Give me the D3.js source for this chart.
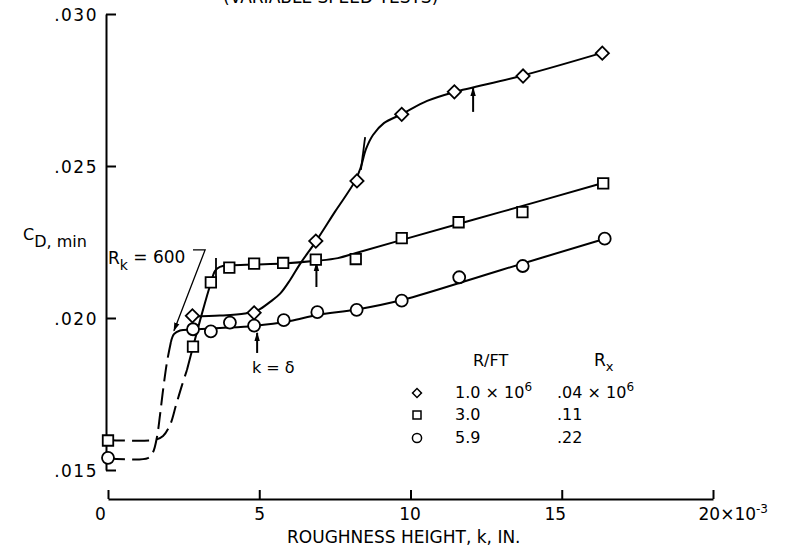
<!DOCTYPE html>
<html>
<head>
<meta charset="utf-8">
<script src="https://cdn.jsdelivr.net/npm/d3@7"></script>
<style>
  body { margin: 0; background: #fff; }
  svg text { font-family: "DejaVu Sans", sans-serif; fill: #000; }
</style>
</head>
<body>
<svg id="chart" width="786" height="553"></svg>
<script>
// Measured points, k in 10^-3 in.
const kDiamond  = [2.79, 4.83, 6.87, 8.23, 9.71, 11.45, 13.72, 16.34];
const cdDiamond = [0.02007, 0.02017, 0.02253, 0.02451, 0.0267, 0.02744, 0.02796, 0.02871];

const kSquare  = [0, 2.81, 3.40, 4.01, 4.83, 5.79, 6.87, 8.19, 9.71, 11.59, 13.70, 16.37];
const cdSquare = [0.01597, 0.01906, 0.02117, 0.02166, 0.02179, 0.02181, 0.02192, 0.02194, 0.02263, 0.02315, 0.02348, 0.02443];

const kCircle  = [0, 2.81, 3.40, 4.03, 4.83, 5.81, 6.92, 8.22, 9.71, 11.61, 13.71, 16.42];
const cdCircle = [0.0154, 0.01963, 0.01956, 0.01985, 0.01975, 0.01993, 0.02019, 0.02027, 0.02057, 0.02134, 0.02171, 0.02261];

// Faired curves
const diamondCurveK  = [2.81, 3.70, 4.53, 4.96, 5.36, 5.69, 6.02, 6.35, 6.88, 7.50, 8.17, 8.36, 8.53, 8.76, 9.12, 9.72, 10.55, 11.44, 13.65, 16.33];
const diamondCurveCd = [0.02005, 0.02008, 0.02015, 0.02026, 0.02053, 0.02080, 0.02125, 0.02178, 0.02253, 0.02349, 0.02451, 0.02497, 0.02556, 0.02602, 0.02641, 0.02671, 0.02714, 0.02743, 0.02796, 0.02872];

const squareDashK  = [0, 1.55, 1.82, 2.05, 2.25, 2.45, 2.61];
const squareDashCd = [0.01599, 0.01599, 0.01612, 0.01648, 0.01714, 0.01780, 0.01829];
const squareCurveK  = [2.61, 2.81, 3.11, 3.40, 3.54, 3.70, 4.03, 4.83, 5.79, 6.88, 7.60, 8.20, 9.72, 13.0, 16.36];
const squareCurveCd = [0.01829, 0.01905, 0.02016, 0.02115, 0.02155, 0.02168, 0.02173, 0.02176, 0.02179, 0.02188, 0.02197, 0.02214, 0.02257, 0.02349, 0.02444];

const circleDashK  = [0, 1.32, 1.49, 1.62, 1.72, 1.82, 1.95, 2.08];
const circleDashCd = [0.01539, 0.01539, 0.01559, 0.01609, 0.01681, 0.01763, 0.01855, 0.01921];
const circleCurveK  = [2.08, 2.18, 2.38, 2.81, 3.70, 4.83, 6.02, 6.91, 8.23, 9.72, 13.0, 16.40];
const circleCurveCd = [0.01921, 0.01947, 0.01959, 0.01962, 0.01967, 0.01974, 0.01990, 0.02010, 0.02028, 0.02059, 0.02158, 0.02260];

// Axis ticks and legend
const kTicks  = [0, 5, 10, 15, 20];
const cdTicks = [0.015, 0.020, 0.025, 0.030];
const legendRFt = ["1.0", "3.0", "5.9"];
const legendRx  = [".04", ".11", ".22"];

const svg = d3.select("#chart");

const x = d3.scaleLinear().domain([0, 20]).range([108, 713]);
const y = d3.scaleLinear().domain([0.015, 0.030]).range([470, 14]);

// arrow head
svg.append("defs").append("marker")
    .attr("id", "head")
    .attr("viewBox", "0 0 10 10")
    .attr("refX", 9).attr("refY", 5)
    .attr("markerWidth", 9).attr("markerHeight", 9)
    .attr("markerUnits", "userSpaceOnUse")
    .attr("orient", "auto")
  .append("path")
    .attr("d", "M0,2L10,5L0,8Z")
    .attr("fill", "#000");

// top caption (cut off in the original)
svg.append("text")
    .attr("x", 223).attr("y", 3)
    .attr("font-size", 17)
    .text("(VARIABLE SPEED TESTS)");

// Y axis
const yAxis = svg.append("g")
    .attr("transform", "translate(106,0)")
    .call(d3.axisLeft(y)
        .tickValues(cdTicks)
        .tickSizeInner(-10)
        .tickSizeOuter(0)
        .tickPadding(8)
        .tickFormat(d => d3.format(".3f")(d).replace(/^0/, "")));
yAxis.selectAll("path, line").attr("stroke", "#000").attr("stroke-width", 2);
yAxis.selectAll("text").attr("font-size", 17).attr("letter-spacing", 1.5).attr("dy", "0.38em");

// X axis
const labelShift = {0: -8, 5: 0, 10: -1, 15: -7, 20: 0};
const xAxis = svg.append("g")
    .attr("transform", "translate(0,499)")
    .call(d3.axisBottom(x)
        .tickValues(kTicks)
        .tickSizeInner(-9)
        .tickSizeOuter(0)
        .tickPadding(9)
        .tickFormat(d => d));
xAxis.selectAll("path, line").attr("stroke", "#000").attr("stroke-width", 2);
xAxis.selectAll("text").attr("font-size", 17).attr("dx", d => labelShift[d]);

const last = xAxis.selectAll(".tick").filter(d => d === 20).select("text");
last.text("").attr("text-anchor", "start").attr("x", -15).attr("dx", 0);
last.append("tspan").text("20×10");
last.append("tspan").attr("font-size", 12).attr("dy", "-0.55em").text("-3");

// axis titles
svg.append("text")
    .attr("x", 287).attr("y", 543)
    .attr("font-size", 17)
    .text("ROUGHNESS HEIGHT, k, IN.");

const yTitle = svg.append("text")
    .attr("x", 23).attr("y", 240)
    .attr("font-size", 16);
yTitle.append("tspan").text("C");
yTitle.append("tspan").attr("dy", 7).text("D, min");

// curves
const line = d3.line()
    .x(d => x(d[0]))
    .y(d => y(d[1]))
    .curve(d3.curveCatmullRom.alpha(0.5));

const curves = [
    {k: diamondCurveK, cd: diamondCurveCd, dash: null},
    {k: squareDashK, cd: squareDashCd, dash: "17,7"},
    {k: squareCurveK, cd: squareCurveCd, dash: null},
    {k: circleDashK, cd: circleDashCd, dash: "17,7"},
    {k: circleCurveK, cd: circleCurveCd, dash: null}
];

svg.selectAll(".curve")
    .data(curves)
    .enter().append("path")
    .attr("class", "curve")
    .attr("d", c => line(d3.zip(c.k, c.cd)))
    .attr("fill", "none")
    .attr("stroke", "#000")
    .attr("stroke-width", 2)
    .attr("stroke-dasharray", c => c.dash);

// transition ticks on the curves
const marks = [
    [[3.57, 0.02197], [3.57, 0.02135]],
    [[8.50, 0.02595], [8.36, 0.02487]]
];
svg.selectAll(".mark")
    .data(marks)
    .enter().append("line")
    .attr("class", "mark")
    .attr("x1", d => x(d[0][0])).attr("y1", d => y(d[0][1]))
    .attr("x2", d => x(d[1][0])).attr("y2", d => y(d[1][1]))
    .attr("stroke", "#000").attr("stroke-width", 1.8);

// arrows pointing up at the curves
const arrows = [
    [12.07, 0.02678, 0.02757],
    [6.89, 0.02102, 0.02181],
    [4.93, 0.01885, 0.01951]
];
svg.selectAll(".arrow")
    .data(arrows)
    .enter().append("line")
    .attr("class", "arrow")
    .attr("x1", d => x(d[0])).attr("y1", d => y(d[1]))
    .attr("x2", d => x(d[0])).attr("y2", d => y(d[2]))
    .attr("stroke", "#000").attr("stroke-width", 2)
    .attr("marker-end", "url(#head)");

// R_k = 600 label and leader
const rk = svg.append("text")
    .attr("x", x(0)).attr("y", y(0.02178))
    .attr("font-size", 17);
rk.append("tspan").text("R");
rk.append("tspan").attr("font-size", 14).attr("dy", 6).text("k");
rk.append("tspan").attr("dy", -7).text(" = 600");

svg.append("path")
    .attr("d", d3.line()([[x(2.81), y(0.02224)], [x(3.21), y(0.02224)], [x(2.18), y(0.01958)]]))
    .attr("fill", "none")
    .attr("stroke", "#000").attr("stroke-width", 1.3)
    .attr("marker-end", "url(#head)");

svg.append("text")
    .attr("x", x(4.76)).attr("y", y(0.01819))
    .attr("font-size", 16)
    .text("k = δ");

// data markers
const diamond = d3.symbol().type(d3.symbolSquare).size(88);
const square = d3.symbol().type(d3.symbolSquare).size(110);
const circle = d3.symbol().type(d3.symbolCircle).size(113);

function drawPoints(ks, cds, sym, rotate) {
    svg.append("g").selectAll("path")
        .data(d3.zip(ks, cds))
        .enter().append("path")
        .attr("d", sym)
        .attr("transform", d => `translate(${x(d[0])},${y(d[1])}) rotate(${rotate})`)
        .attr("fill", "#fff")
        .attr("stroke", "#000")
        .attr("stroke-width", 1.8);
}
drawPoints(kDiamond, cdDiamond, diamond, 45);
drawPoints(kSquare, cdSquare, square, 0);
drawPoints(kCircle, cdCircle, circle, 0);

// legend
const legend = svg.append("g");
legend.append("text").attr("x", 473).attr("y", 366).attr("font-size", 16).text("R/FT");
const rx = legend.append("text").attr("x", 594).attr("y", 366).attr("font-size", 17);
rx.append("tspan").text("R");
rx.append("tspan").attr("font-size", 13).attr("dy", 5).text("x");

const legendSyms = [
    d3.symbol().type(d3.symbolSquare).size(40)(),
    d3.symbol().type(d3.symbolSquare).size(64)(),
    d3.symbol().type(d3.symbolCircle).size(66)()
];
const rowY = [398, 420, 443];
const rotations = [45, 0, 0];

legendRFt.forEach((v, i) => {
    legend.append("path")
        .attr("d", legendSyms[i])
        .attr("transform", `translate(417,${rowY[i] - 5}) rotate(${rotations[i]})`)
        .attr("fill", "#fff").attr("stroke", "#000").attr("stroke-width", 1.5);

    const t1 = legend.append("text").attr("x", 455).attr("y", rowY[i]).attr("font-size", 16);
    t1.append("tspan").text(i === 0 ? v + " × 10" : v);
    if (i === 0) t1.append("tspan").attr("font-size", 12).attr("dy", "-0.6em").text("6");

    const t2 = legend.append("text").attr("x", 557).attr("y", rowY[i]).attr("font-size", 16);
    t2.append("tspan").text(i === 0 ? legendRx[i] + " × 10" : legendRx[i]);
    if (i === 0) t2.append("tspan").attr("font-size", 12).attr("dy", "-0.6em").text("6");
});
</script>
</body>
</html>
